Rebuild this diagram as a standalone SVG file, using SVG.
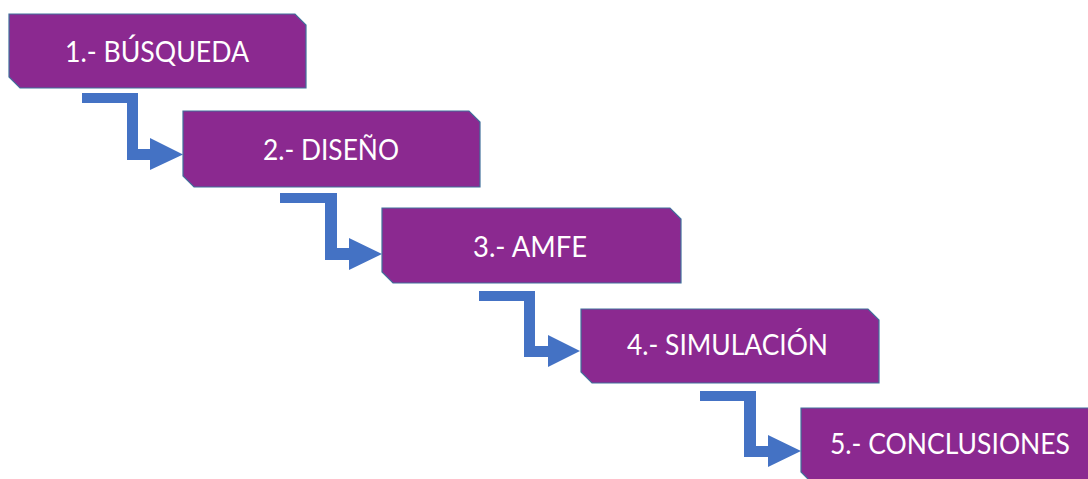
<svg xmlns="http://www.w3.org/2000/svg" width="1088" height="479" viewBox="0 0 1088 479">
<style>
.box{fill:#8B2990;stroke:#41719C;stroke-width:1.2}
.lbl{font-family:Lato,"Open Sans","Liberation Sans",sans-serif;font-size:28px;fill:#FFFFFF;text-anchor:middle}
.arr{fill:#4472C4}
</style>
<rect width="1088" height="479" fill="#FFFFFF"/>
<g id="connectors">
<polygon class="arr" points="82,93 138,93 138,149 150,149 150,138 183,154.5 150,170 150,160 127,160 127,103 82,103"/>
<polygon class="arr" points="280,193 337,193 337,248 349,248 349,238 382,254 349,270 349,260 325,260 325,203 280,203"/>
<polygon class="arr" points="479,291 535,291 535,346 548,346 548,335 580,351 548,367 548,357 524,357 524,301 479,301"/>
<polygon class="arr" points="700,391 756,391 756,446 768,446 768,435 801,451 768,467 768,457 744,457 744,401 700,401"/>
</g>
<g id="node1">
<path class="box" d="M9,14 H295 L306,25 V88 H20 L9,77 Z"/>
<text class="lbl" x="157" y="62" textLength="184" lengthAdjust="spacingAndGlyphs">1.- BÚSQUEDA</text>
</g>
<g id="node2">
<path class="box" d="M183,111 H469 L480,122 V187 H194 L183,176 Z"/>
<text class="lbl" x="331" y="160" textLength="136" lengthAdjust="spacingAndGlyphs">2.- DISEÑO</text>
</g>
<g id="node3">
<path class="box" d="M382,208 H670 L681,219 V283 H393 L382,272 Z"/>
<text class="lbl" x="530" y="257" textLength="114" lengthAdjust="spacingAndGlyphs">3.- AMFE</text>
</g>
<g id="node4">
<path class="box" d="M581,309 H868 L879,320 V383 H592 L581,372 Z"/>
<text class="lbl" x="727.5" y="355" textLength="201" lengthAdjust="spacingAndGlyphs">4.- SIMULACIÓN</text>
</g>
<g id="node5">
<path class="box" d="M801,408 H1088 L1099,419 V483 H812 L801,472 Z"/>
<text class="lbl" x="950" y="454" textLength="240" lengthAdjust="spacingAndGlyphs">5.- CONCLUSIONES</text>
</g>
</svg>
